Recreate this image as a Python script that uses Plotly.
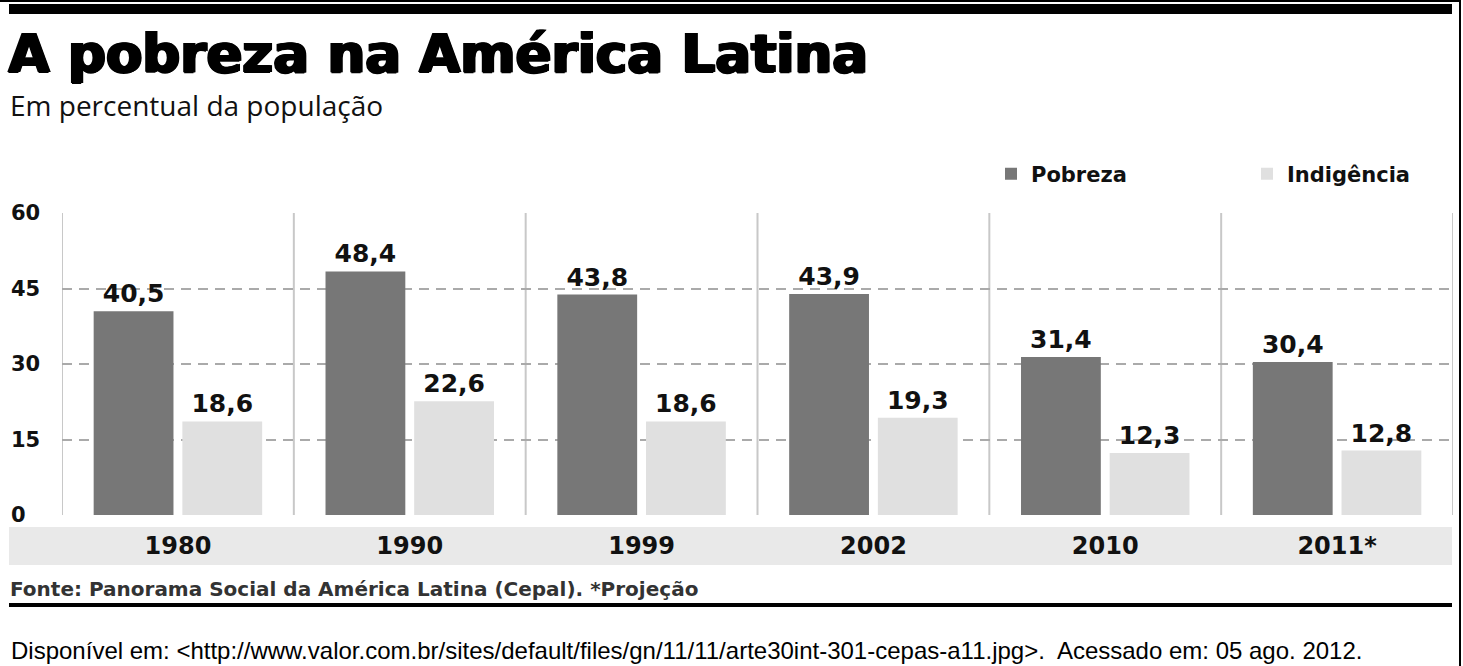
import plotly.graph_objects as go

categories = ["1980", "1990", "1999", "2002", "2010", "2011*"]
pobreza = [40.5, 48.4, 43.8, 43.9, 31.4, 30.4]
indigencia = [18.6, 22.6, 18.6, 19.3, 12.3, 12.8]
y_ticks = [0, 15, 30, 45, 60]

W, H = 1463, 666
L, R, T, B = 62, 1453, 213, 515


def pxx(x):
    return (x - L) / (R - L)


def pxy(y):
    return (B - y) / (B - T)


NUM_FONT = "DejaVu Sans"

fig = go.Figure()
fig.add_trace(go.Bar(
    name="Pobreza", x=categories, y=pobreza, marker_color="#777777",
    marker_line_width=0, legend="legend",
    texttemplate="%{y:.1f}", textposition="outside", cliponaxis=False,
    constraintext="none",
    textfont=dict(family=NUM_FONT, size=25, color="#111111", weight="bold"),
))
fig.add_trace(go.Bar(
    name="Indigência", x=categories, y=indigencia, marker_color="#e0e0e0",
    marker_line_width=0, legend="legend2",
    texttemplate="%{y:.1f}", textposition="outside", cliponaxis=False,
    constraintext="none",
    textfont=dict(family=NUM_FONT, size=25, color="#111111", weight="bold"),
))

shapes = []
# gray band under category labels
shapes.append(dict(type="rect", xref="paper", yref="paper", layer="below",
                   x0=pxx(9), x1=pxx(1452), y0=pxy(565), y1=pxy(527),
                   fillcolor="#e9e9e9", line_width=0))
# vertical separators between groups
for i in range(len(categories) + 1):
    shapes.append(dict(type="line", xref="x", yref="y", layer="below",
                       x0=i - 0.5, x1=i - 0.5, y0=0, y1=y_ticks[-1],
                       line=dict(color="#c8c8c8", width=2)))
# top rules
shapes.append(dict(type="line", xref="paper", yref="paper",
                   x0=pxx(0), x1=pxx(1460), y0=pxy(1), y1=pxy(1),
                   line=dict(color="#000000", width=2)))
shapes.append(dict(type="rect", xref="paper", yref="paper",
                   x0=pxx(9), x1=pxx(1452), y0=pxy(14), y1=pxy(4),
                   fillcolor="#000000", line_width=0))
# right vertical rule
shapes.append(dict(type="line", xref="paper", yref="paper",
                   x0=pxx(1460), x1=pxx(1460), y0=pxy(0), y1=pxy(666),
                   line=dict(color="#000000", width=2)))
# bottom rule
shapes.append(dict(type="rect", xref="paper", yref="paper",
                   x0=pxx(9), x1=pxx(1452), y0=pxy(607), y1=pxy(603),
                   fillcolor="#000000", line_width=0))

annotations = []
annotations.append(dict(text="A pobreza na América Latina", xref="paper", yref="paper",
                        x=pxx(6), y=pxy(21), xanchor="left", yanchor="top", showarrow=False,
                        font=dict(family="DejaVu Sans", size=53, color="#000000", weight="bold",
                                  shadow="1.5px 0 0 #000, -1px 0 0 #000, 0 1px 0 #000, 2px 0 0 #000")))
annotations.append(dict(text="Em percentual da população", xref="paper", yref="paper",
                        x=pxx(8), y=pxy(84), xanchor="left", yanchor="top", showarrow=False,
                        font=dict(family="Open Sans", size=28, color="#111111")))
for v in y_ticks:
    annotations.append(dict(text=str(v), xref="paper", yref="y",
                            x=pxx(9), y=v, xanchor="left", yanchor="middle", showarrow=False,
                            font=dict(family=NUM_FONT, size=21, color="#111111", weight="bold")))
annotations.append(dict(text="Fonte: Panorama Social da América Latina (Cepal). *Projeção",
                        xref="paper", yref="paper", x=pxx(8), y=pxy(589),
                        xanchor="left", yanchor="middle", showarrow=False,
                        font=dict(family="DejaVu Sans", size=20, color="#333333", weight=600)))
annotations.append(dict(text="Disponível em: &lt;http://www.valor.com.br/sites/default/files/gn/11/11/arte30int-301-cepas-a11.jpg&gt;.  Acessado em: 05 ago. 2012.",
                        xref="paper", yref="paper", x=pxx(9), y=pxy(666),
                        xanchor="left", yanchor="bottom", showarrow=False,
                        font=dict(family="Liberation Sans", size=24, color="#000000")))

legend_font = dict(family="DejaVu Sans", size=21, color="#111111", weight="bold")
fig.update_layout(
    width=W, height=H,
    margin=dict(l=L, r=W - R, t=T, b=H - B),
    paper_bgcolor="#ffffff", plot_bgcolor="#ffffff",
    barmode="group", bargap=0.235, bargroupgap=0.1,
    separators=",.",
    showlegend=True,
    legend=dict(orientation="h", x=pxx(991), y=pxy(174), xanchor="left", yanchor="middle",
                font=legend_font, bgcolor="rgba(0,0,0,0)"),
    legend2=dict(orientation="h", x=pxx(1247), y=pxy(174), xanchor="left", yanchor="middle",
                 font=legend_font, bgcolor="rgba(0,0,0,0)"),
    shapes=shapes, annotations=annotations,
    xaxis=dict(range=[-0.5, len(categories) - 0.5], showgrid=False, zeroline=False,
               showline=False, ticks="", ticklabelstandoff=14,
               tickfont=dict(family=NUM_FONT, size=24, color="#111111", weight="bold")),
    yaxis=dict(range=[0, y_ticks[-1]], tickvals=y_ticks, showticklabels=False,
               showgrid=True, gridcolor="#aaaaaa", gridwidth=1.5, griddash="10px,7px",
               zeroline=False, showline=False),
)

fig.write_html("out.html", config={"responsive": False, "displayModeBar": False},
               post_script="document.body.style.margin='0';document.body.style.overflow='hidden';")
